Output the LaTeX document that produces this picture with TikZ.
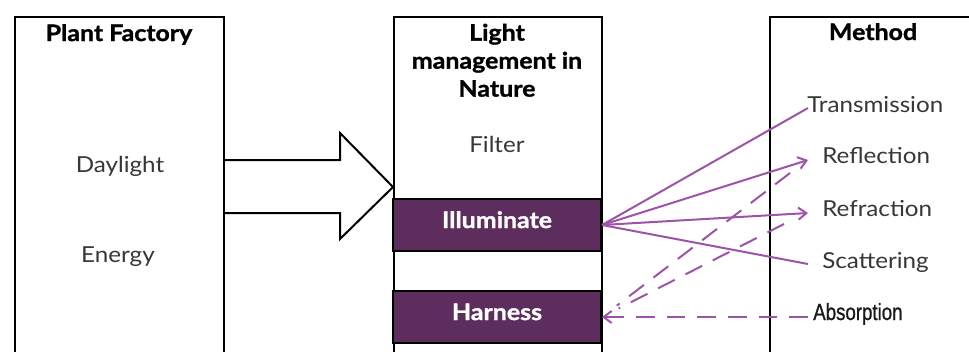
\documentclass[tikz,border=0pt]{standalone}
\usepackage{fontspec}
\setmainfont{Lato}[FakeStretch=1.1, BoldFeatures={FakeBold=1.3}]
\newfontfamily\narrowfont{Liberation Sans}[FakeBold=1]
\usetikzlibrary{arrows.meta}
\definecolor{plum}{RGB}{93,45,94}
\definecolor{orchid}{RGB}{157,84,168}
\definecolor{labelgray}{RGB}{55,55,55}
\tikzset{
  panel/.style={draw=black, line width=1.5pt, fill=white, rectangle, inner sep=0pt, anchor=north west},
  band/.style={draw=black, line width=1.5pt, fill=plum, rectangle, inner sep=0pt,
    minimum width=156pt, minimum height=39pt, text=white,
    text height=12pt, text depth=7.5pt,
    font=\fontsize{17}{18}\selectfont\bfseries},
  heading/.style={font=\fontsize{17}{21}\selectfont\bfseries, text=black, inner sep=0pt, align=center},
  label/.style={font=\fontsize{16.5}{18}\selectfont, text=labelgray, inner sep=0pt, anchor=base},
  blockarrow/.style={draw=black, line width=1.5pt, fill=white, line join=miter},
  ray/.style={draw=orchid, line width=1.5pt},
  rayd/.style={ray, dash pattern=on 14pt off 9pt},
  barb/.style={-{Straight Barb[length=6pt,width=9pt,line width=1.5pt]}},
}
\begin{document}
\begin{tikzpicture}[x=0.75pt,y=-0.75pt]
\useasboundingbox (0,0) rectangle (969,351);
\clip (0,0) rectangle (969,351);

% three panels, open towards the page edges
\node[panel, minimum width=156.75pt, minimum height=300pt] (pf) at (14,16) {};
\node[panel, minimum width=156pt, minimum height=300pt] (lm) at (393,16) {};
\node[panel, minimum width=200pt, minimum height=300pt] (me) at (769,16) {};

% headings
\node[heading, anchor=base] (pfh) at (119,41) {Plant Factory};
\node[heading, anchor=north] (lmh) at (497,23.5) {Light\\management in\\Nature};
\node[heading, anchor=base] (meh) at (873,40) {Method};

% left panel contents
\node[label] (day) at (120,172) {Daylight};
\node[label] (ene) at (118,262) {Energy};

% middle panel contents
\node[label] (fil) at (497,152) {Filter};
\node[band] (il) at (497,225) {Illuminate};
\node[band] (hv) at (497,317) {Harness};

% method labels
\node[label, anchor=base west] (tr) at (807,112) {Transmission};
\node[label, anchor=base west] (rl) at (822,163) {Reflection};
\node[label, anchor=base west] (rf) at (822,216) {Refraction};
\node[label, anchor=base west] (sc) at (822,268) {Scattering};
\node[inner sep=0pt, anchor=base west, text=black!90] (ab) at (813,320)
  {\scalebox{0.8}[1]{\narrowfont\fontsize{17.5}{20}\selectfont Absorption}};

% ray end points beside the method labels
\coordinate (tT) at (808,108);
\coordinate (tRl) at (808,160);
\coordinate (tRr) at (808,213);
\coordinate (tS) at (808,264);
\coordinate (tA) at (808,317);
\coordinate (dRl) at (790,173);
\coordinate (dRr) at (784,224);

% block arrow from the plant factory to light management
\draw[blockarrow] (pf.east |- 0,160) -- (340,160) -- (340,133) -- (lm.west |- 0,187)
  -- (340,239) -- (340,213) -- (pf.east |- 0,213);

% illuminate rays
\draw[ray] (il.east) -- (tT);
\draw[ray, barb] (il.east) -- (tRl);
\draw[ray, barb] (il.east) -- (tRr);
\draw[ray] (il.east) -- (tS);

% harness rays
\draw[rayd, barb] (tA) -- (hv.east);
\draw[rayd, shorten >=14pt] (dRl) -- (hv.east);
\draw[rayd, shorten >=14pt] (dRr) -- (hv.east);
\end{tikzpicture}
\end{document}
